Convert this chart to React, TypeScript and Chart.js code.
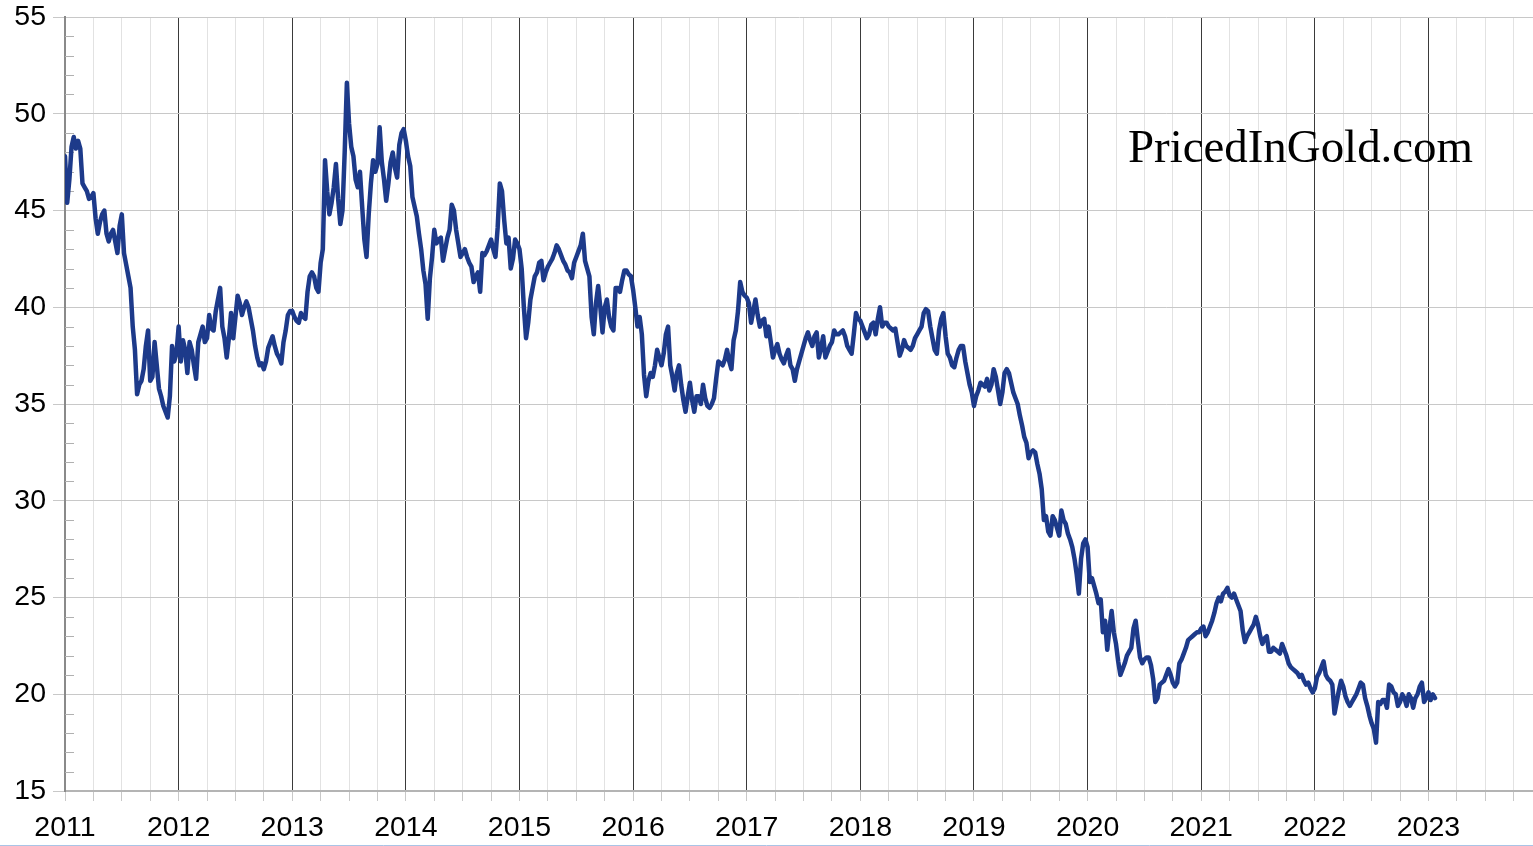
import { useEffect, useRef } from 'react';
import { Chart, registerables } from 'chart.js';

Chart.register(...registerables);

// Axis ranges and ticks
const X_MIN = 2011;
const X_MAX = 2023.92;
const X_STEP = 0.25; // quarterly minor grid
const Y_MIN = 15;
const Y_MAX = 55;
const Y_STEP = 5;
const SAMPLES_PER_YEAR = 52; // weekly readings
const WATERMARK = 'PricedInGold.com';

// Series values, one weekly list per calendar year
const v2011 = [47.8, 45.4, 46.6, 48.3, 48.8, 48.2, 48.6, 48.2, 46.4, 46.2, 46.0, 45.6, 45.7, 45.9, 44.6, 43.8, 44.4, 44.8, 45.0, 43.8, 43.4, 43.8, 44.0, 43.4, 42.8, 44.2, 44.8, 42.8, 42.2, 41.6, 41.0, 39.0, 37.8, 35.5, 36.0, 36.2, 36.8, 38.0, 38.8, 36.2, 36.4, 38.2, 37.0, 35.8, 35.4, 34.9, 34.6, 34.3, 35.4, 38.0, 37.2, 37.6];
const v2012 = [39.0, 37.2, 38.3, 37.8, 36.6, 38.2, 37.8, 37.0, 36.3, 38.2, 38.6, 39.0, 38.2, 38.4, 39.6, 38.9, 38.8, 39.8, 40.4, 41.0, 39.0, 38.4, 37.4, 38.4, 39.7, 38.4, 39.5, 40.6, 40.2, 39.6, 40.0, 40.3, 40.0, 39.4, 38.8, 38.0, 37.4, 37.0, 37.1, 36.8, 37.2, 37.9, 38.2, 38.5, 38.0, 37.6, 37.4, 37.1, 38.2, 38.8, 39.6, 39.8];
const v2013 = [39.8, 39.5, 39.3, 39.2, 39.7, 39.5, 39.4, 40.8, 41.6, 41.8, 41.6, 41.0, 40.8, 42.3, 43.0, 47.6, 46.0, 44.8, 45.4, 46.2, 47.4, 45.6, 44.3, 45.0, 48.0, 51.6, 49.5, 48.3, 47.8, 46.6, 46.2, 47.0, 45.2, 43.5, 42.6, 44.8, 46.4, 47.6, 47.0, 47.4, 49.3, 47.5, 46.6, 45.5, 46.4, 47.5, 48.0, 47.2, 46.7, 48.4, 49.0, 49.2];
const v2014 = [48.6, 47.8, 47.3, 45.7, 45.2, 44.7, 43.8, 43.0, 41.9, 41.2, 39.4, 41.5, 42.6, 44.0, 43.3, 43.5, 43.6, 42.4, 43.0, 43.6, 44.0, 45.3, 45.0, 44.0, 43.3, 42.6, 42.8, 43.0, 42.6, 42.3, 42.1, 41.3, 41.6, 41.8, 40.8, 42.8, 42.7, 42.9, 43.2, 43.5, 43.0, 42.6, 44.1, 46.4, 46.0, 44.5, 43.3, 43.6, 42.0, 42.5, 43.5, 43.3];
const v2015 = [43.0, 42.0, 40.0, 38.4, 39.2, 40.4, 41.0, 41.6, 41.8, 42.3, 42.4, 41.4, 41.8, 42.1, 42.3, 42.5, 42.8, 43.2, 43.0, 42.7, 42.4, 42.2, 41.9, 41.8, 41.5, 42.3, 42.6, 42.9, 43.2, 43.8, 42.4, 42.0, 41.6, 39.5, 38.6, 40.2, 41.1, 40.0, 38.7, 40.0, 40.4, 39.5, 39.0, 38.8, 41.0, 41.0, 40.8, 41.4, 41.9, 41.9, 41.7, 41.6];
const v2016 = [40.9, 40.0, 39.0, 39.5, 38.6, 36.5, 35.4, 36.2, 36.6, 36.4, 37.0, 37.8, 37.4, 37.0, 37.6, 38.6, 39.0, 37.0, 36.4, 35.7, 36.6, 37.0, 36.0, 35.2, 34.6, 35.4, 36.1, 35.2, 34.6, 35.4, 35.4, 35.0, 36.0, 35.3, 34.9, 34.8, 35.0, 35.3, 36.3, 37.2, 37.1, 37.0, 37.3, 37.8, 37.2, 36.8, 38.3, 38.8, 39.8, 41.3, 40.8, 40.6];
const v2017 = [40.5, 40.2, 39.2, 39.8, 40.4, 39.6, 39.0, 39.3, 39.4, 38.5, 39.0, 38.2, 37.4, 37.8, 38.1, 37.6, 37.3, 37.1, 37.5, 37.8, 37.0, 36.8, 36.2, 36.8, 37.2, 37.6, 38.0, 38.4, 38.7, 38.3, 38.0, 38.5, 38.7, 37.4, 37.9, 38.5, 37.4, 37.7, 38.0, 38.2, 38.8, 38.6, 38.6, 38.7, 38.8, 38.5, 38.0, 37.8, 37.6, 38.6, 39.7, 39.4];
const v2018 = [39.3, 39.0, 38.7, 38.4, 38.6, 39.1, 39.2, 38.6, 39.4, 40.0, 39.0, 39.2, 39.2, 39.0, 38.9, 38.8, 38.9, 38.2, 37.5, 37.8, 38.3, 38.0, 37.9, 37.8, 38.0, 38.4, 38.6, 38.8, 39.0, 39.7, 39.9, 39.8, 39.0, 38.4, 37.8, 37.6, 38.8, 39.4, 39.7, 38.5, 37.6, 37.4, 37.0, 36.9, 37.4, 37.8, 38.0, 38.0, 37.2, 36.6, 36.0, 35.6];
const v2019 = [34.9, 35.4, 35.7, 36.1, 36.0, 35.9, 36.3, 35.7, 36.0, 36.8, 36.4, 35.7, 35.0, 35.6, 36.6, 36.8, 36.6, 36.1, 35.6, 35.3, 35.0, 34.4, 33.9, 33.3, 33.0, 32.2, 32.5, 32.6, 32.5, 31.9, 31.4, 30.6, 29.0, 29.2, 28.4, 28.2, 29.2, 29.0, 28.6, 28.2, 29.5, 29.0, 28.8, 28.3, 28.0, 27.6, 27.0, 26.2, 25.2, 27.0, 27.8, 28.0];
const v2020 = [27.6, 25.8, 26.0, 25.6, 25.2, 24.7, 24.9, 23.2, 23.8, 22.3, 23.4, 24.3, 23.2, 22.6, 21.7, 21.0, 21.3, 21.6, 22.0, 22.2, 22.4, 23.4, 23.8, 22.8, 21.9, 21.6, 21.8, 21.9, 21.9, 21.5, 20.8, 19.6, 19.8, 20.5, 20.6, 20.7, 21.0, 21.3, 21.0, 20.6, 20.4, 20.6, 21.6, 21.8, 22.1, 22.4, 22.8, 22.9, 23.0, 23.1, 23.2, 23.2];
const v2021 = [23.4, 23.5, 23.0, 23.2, 23.5, 23.8, 24.2, 24.7, 25.0, 24.8, 25.2, 25.3, 25.5, 25.1, 25.0, 25.2, 24.9, 24.6, 24.3, 23.3, 22.7, 23.0, 23.2, 23.4, 23.6, 24.0, 23.6, 23.0, 22.6, 22.9, 23.0, 22.2, 22.2, 22.4, 22.3, 22.2, 22.1, 22.6, 22.3, 22.0, 21.6, 21.4, 21.3, 21.2, 21.1, 20.9, 21.0, 20.7, 20.5, 20.6, 20.3, 20.1];
const v2022 = [20.3, 20.9, 21.1, 21.4, 21.7, 21.0, 20.8, 20.7, 20.5, 19.0, 19.6, 20.2, 20.7, 20.4, 19.9, 19.6, 19.4, 19.6, 19.8, 20.0, 20.3, 20.6, 20.5, 19.8, 19.4, 18.9, 18.5, 18.2, 17.5, 19.6, 19.5, 19.7, 19.7, 19.3, 20.5, 20.4, 20.1, 20.0, 19.4, 19.6, 20.0, 19.8, 19.4, 20.0, 19.8, 19.3, 19.8, 20.0, 20.4, 20.6, 19.6, 19.8];
const v2023 = [20.1, 19.7, 20.0, 19.8];

const yearSeries = [v2011, v2012, v2013, v2014, v2015, v2016, v2017, v2018, v2019, v2020, v2021, v2022, v2023];

const FONT = 'Liberation Sans, Arial, sans-serif';
const FONT_SIZE = 28.5;

const isYear = (v: number) => Math.abs(v - Math.round(v)) < 1e-6;

const extrasPlugin = {
  id: 'extras',
  beforeDatasetsDraw(chart: any) {
    const { ctx, chartArea, scales } = chart;
    const y = scales.y;
    ctx.save();
    ctx.strokeStyle = '#b0b0b0';
    ctx.lineWidth = 1;
    for (let v = Y_MIN + 1; v < Y_MAX; v++) {
      if (v % Y_STEP === 0) continue;
      const py = Math.round(y.getPixelForValue(v)) + 0.5;
      ctx.beginPath();
      ctx.moveTo(chartArea.left, py);
      ctx.lineTo(chartArea.left + 9, py);
      ctx.stroke();
    }
    ctx.restore();
  },
  afterDraw(chart: any) {
    const { ctx, width, height } = chart;
    ctx.save();
    ctx.font = '46px "Liberation Serif", serif';
    const w = ctx.measureText(WATERMARK).width;
    const target = 345;
    ctx.translate(1128, 162);
    ctx.scale(target / w, 1);
    ctx.fillStyle = '#000';
    ctx.textBaseline = 'alphabetic';
    ctx.fillText(WATERMARK, 0, 0);
    ctx.restore();
    ctx.save();
    ctx.strokeStyle = '#a9c4e6';
    ctx.lineWidth = 1;
    ctx.beginPath();
    ctx.moveTo(0, height - 0.5);
    ctx.lineTo(width, height - 0.5);
    ctx.stroke();
    ctx.restore();
  },
};

export default function App() {
  const ref = useRef<HTMLCanvasElement | null>(null);

  useEffect(() => {
    document.body.style.margin = '0';
    const points = yearSeries.flatMap((arr, yi) =>
      arr.map((v, i) => ({ x: X_MIN + yi + i / SAMPLES_PER_YEAR, y: v }))
    );
    const chart = new Chart(ref.current as HTMLCanvasElement, {
      type: 'line',
      data: {
        datasets: [
          {
            data: points,
            borderColor: '#1d3a8a',
            borderWidth: 4.5,
            pointRadius: 0,
            tension: 0,
            fill: false,
            borderJoinStyle: 'round',
            borderCapStyle: 'round',
          },
        ],
      },
      options: {
        animation: false,
        responsive: false,
        maintainAspectRatio: false,
        layout: { padding: { top: 17, right: 0, left: 0, bottom: 0 } },
        plugins: { legend: { display: false }, tooltip: { enabled: false }, title: { display: false } },
        scales: {
          x: {
            type: 'linear',
            min: X_MIN,
            max: X_MAX,
            ticks: {
              stepSize: X_STEP,
              autoSkip: false,
              maxRotation: 0,
              includeBounds: false,
              color: '#000',
              font: { family: FONT, size: FONT_SIZE },
              padding: 10,
              callback: (v: any) => (isYear(Number(v)) ? String(Math.round(Number(v))) : ''),
            },
            grid: {
              color: (c: any) => (c.tick && isYear(c.tick.value) ? '#3a3a3a' : '#e2e2e2'),
              tickColor: '#c8c8c8',
              tickLength: 10,
              lineWidth: 1,
            },
            border: { color: '#b4b4b4', width: 2 },
            afterFit: (s: any) => {
              s.height = 55;
              s.paddingLeft = 0;
              s.paddingRight = 0;
            },
          },
          y: {
            min: Y_MIN,
            max: Y_MAX,
            ticks: {
              stepSize: Y_STEP,
              color: '#000',
              font: { family: FONT, size: FONT_SIZE },
              padding: 7,
            },
            grid: { color: '#c8c8c8', tickColor: '#c8c8c8', tickLength: 12 },
            border: { color: '#8a8a8a', width: 2 },
            afterFit: (s: any) => {
              s.width = 65;
              s.paddingTop = 0;
              s.paddingBottom = 0;
            },
          },
        },
      },
      plugins: [extrasPlugin],
    });
    return () => chart.destroy();
  }, []);

  return (
    <div style={{ position: 'absolute', left: 0, top: 0 }}>
      <canvas ref={ref} width={1533} height={846} style={{ display: 'block' }} />
    </div>
  );
}
